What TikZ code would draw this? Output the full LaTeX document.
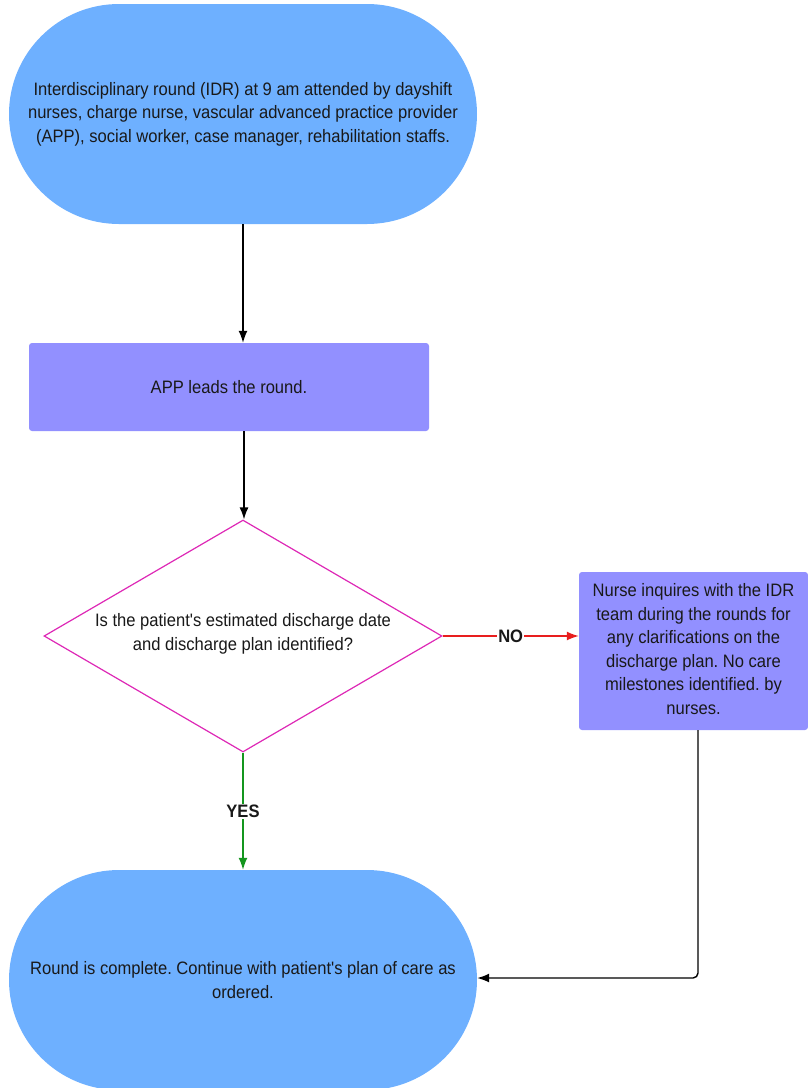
\documentclass[tikz,border=0pt]{standalone}
\usepackage{fontspec}
\setmainfont[FakeStretch=0.92, Ligatures=TeXOff]{Liberation Sans}
\frenchspacing
\usetikzlibrary{arrows.meta,shapes.geometric}
\definecolor{termblue}{RGB}{110,176,255}
\definecolor{procpurple}{RGB}{146,144,255}
\definecolor{decpink}{RGB}{222,40,182}
\definecolor{noRed}{RGB}{232,30,30}
\definecolor{yesGreen}{RGB}{20,150,30}
\tikzset{
  x=1pt,y=-1pt,
  every node/.style={font=\fontsize{18}{23.5}\selectfont, text=black!90},
  terminal/.style={rectangle, fill=termblue, minimum width=468pt, minimum height=220pt, rounded corners=110pt, align=center, inner sep=0pt},
  process/.style={rectangle, fill=procpurple, rounded corners=3pt, align=center, inner sep=0pt},
  decision/.style={diamond, draw=decpink, fill=white, line width=1.2pt, minimum width=398pt, minimum height=232pt, inner sep=0pt},
  flow/.style={-{Latex[length=12pt,width=9pt]}, line width=1.4pt, black},
  lbl/.style={font=\fontsize{18}{20}\selectfont\bfseries, fill=white, inner sep=1pt}
}
\begin{document}
\begin{tikzpicture}
\useasboundingbox (0,0) rectangle (808,1088);
\node[terminal] (start) at (243,114) {Interdisciplinary round (IDR) at 9 am attended by dayshift\\nurses, charge nurse, vascular advanced practice provider\\(APP), social worker, case manager, rehabilitation staffs.};
\node[process, minimum width=400pt, minimum height=88pt] (app) at (229,387) {APP leads the round.};
\node[decision] (dec) at (243,636) {};
\node[align=center] (dectext) at (243,634) {Is the patient's estimated discharge date\\and discharge plan identified?};
\node[process, minimum width=229pt, minimum height=158pt] (nurse) at (693.5,651) {\raisebox{2pt}{\begin{tabular}{@{}c@{}}Nurse inquires with the IDR\\team during the rounds for\\any clarifications on the\\discharge plan. No care\\milestones identified. by\\nurses.\end{tabular}}};
\node[terminal] (end) at (243,980) {Round is complete. Continue with patient's plan of care as\\ordered.};
\coordinate (c1) at (243,0);
\coordinate (c2) at (244,0);
\coordinate (bend) at (698,978);
\draw[flow] (start.south) -- (c1 |- app.north);
\draw[flow] (c2 |- app.south) -- (c2 |- dec.north);
\draw[flow, noRed] (dec.east) -- (nurse.west |- dec.east) node[lbl, pos=0.5] {NO};
\draw[flow, yesGreen] (dec.south) -- (end.north) node[lbl, pos=0.5] {YES};
\draw[flow, rounded corners=5pt] (bend |- nurse.south) -- (bend) -- (end.east |- bend);
\end{tikzpicture}
\end{document}
